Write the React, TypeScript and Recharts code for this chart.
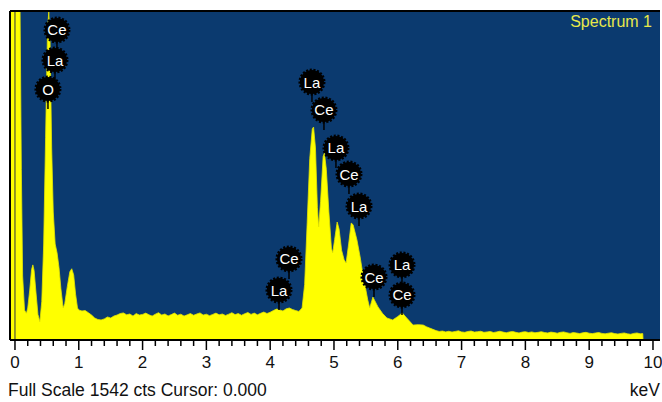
import React from "react";
import {
  AreaChart,
  Area,
  XAxis,
  YAxis,
  CartesianGrid,
  ReferenceLine,
  ReferenceDot,
} from "recharts";

// ---- Data (keV, counts) ----
const lowEnergyPeaks: [number, number][] = [
  [-0.078, 1542], [0.08, 1542], [0.1, 800], [0.12, 300], [0.15, 140], [0.18, 125],
  [0.2, 150], [0.23, 230], [0.26, 330], [0.28, 352], [0.3, 325], [0.33, 220],
  [0.36, 120], [0.39, 86], [0.42, 180], [0.45, 450], [0.48, 950], [0.51, 1450],
  [0.53, 1542], [0.55, 1400], [0.575, 900], [0.6, 600], [0.63, 450], [0.66, 408],
  [0.69, 340], [0.72, 240], [0.755, 150], [0.78, 170], [0.82, 250], [0.86, 320],
  [0.89, 334], [0.92, 305], [0.95, 215], [0.98, 150],
];

const continuumLow: [number, number][] = [
  [1.0, 141], [1.05, 136], [1.1, 138], [1.15, 128], [1.2, 117], [1.25, 103], [1.3, 96],
  [1.35, 94], [1.4, 99], [1.45, 108], [1.5, 103], [1.55, 112], [1.6, 117], [1.65, 124],
  [1.7, 127], [1.75, 118], [1.8, 122], [1.85, 112], [1.9, 124], [1.95, 117], [2.0, 120],
  [2.05, 126], [2.1, 118], [2.15, 112], [2.2, 121], [2.25, 128], [2.3, 117], [2.35, 122],
  [2.4, 113], [2.45, 119], [2.5, 126], [2.55, 116], [2.6, 121], [2.65, 112], [2.7, 118],
  [2.75, 124], [2.8, 116], [2.85, 122], [2.9, 127], [2.95, 117], [3.0, 121], [3.05, 114],
  [3.1, 120], [3.15, 126], [3.2, 118], [3.25, 122], [3.3, 115], [3.35, 121], [3.4, 128],
  [3.45, 119], [3.5, 124], [3.55, 116], [3.6, 123], [3.65, 129], [3.7, 120], [3.75, 126],
  [3.8, 118], [3.85, 125], [3.9, 131], [3.95, 124], [4.0, 130], [4.05, 138], [4.1, 145],
  [4.15, 141], [4.2, 136], [4.25, 146], [4.3, 150], [4.35, 143], [4.4, 138], [4.45, 134],
];

const lLinePeaks: [number, number][] = [
  [4.5, 150], [4.54, 260], [4.58, 550], [4.62, 850], [4.66, 990], [4.68, 998], [4.71, 900],
  [4.74, 620], [4.76, 530], [4.79, 650], [4.83, 860], [4.85, 876], [4.88, 800], [4.92, 600],
  [4.96, 430], [4.98, 408], [5.01, 470], [5.05, 553], [5.08, 520], [5.12, 420], [5.16, 375],
  [5.19, 361], [5.23, 450], [5.27, 548], [5.3, 540], [5.36, 469], [5.41, 389], [5.45, 314],
  [5.53, 187], [5.56, 150], [5.61, 201], [5.69, 155], [5.76, 125], [5.83, 103], [5.92, 94],
  [6.0, 110], [6.07, 127], [6.14, 103], [6.24, 70], [6.32, 72],
];

const continuumHigh: [number, number][] = [
  [6.4, 70], [6.45, 62], [6.5, 56], [6.55, 50], [6.6, 44], [6.65, 40], [6.7, 42], [6.75, 38],
  [6.8, 41], [6.85, 37], [6.9, 40], [6.95, 43], [7.0, 38], [7.05, 36], [7.1, 40], [7.15, 42],
  [7.2, 37], [7.25, 39], [7.3, 41], [7.35, 36], [7.4, 38], [7.45, 40], [7.5, 35], [7.55, 38],
  [7.6, 41], [7.65, 37], [7.7, 34], [7.75, 38], [7.8, 40], [7.85, 36], [7.9, 33], [7.95, 37],
  [8.0, 39], [8.05, 35], [8.1, 38], [8.15, 34], [8.2, 36], [8.25, 39], [8.3, 35], [8.35, 33],
  [8.4, 37], [8.45, 35], [8.5, 32], [8.55, 36], [8.6, 38], [8.65, 34], [8.7, 31], [8.75, 35],
  [8.8, 33], [8.85, 30], [8.9, 34], [8.95, 36], [9.0, 32], [9.05, 30], [9.1, 33], [9.15, 35],
  [9.2, 31], [9.25, 29], [9.3, 32], [9.35, 34], [9.4, 30], [9.45, 28], [9.5, 31], [9.55, 33],
  [9.6, 29], [9.65, 27], [9.7, 31], [9.75, 33], [9.8, 29], [9.84, 30], [9.845, 0], [10.11, 0],
];

// Element line markers: element, energy (keV) of stem, badge height (counts)
const markerElements = ["Ce", "La", "O", "La", "Ce", "La", "Ce", "La", "Ce", "La", "Ce", "La", "Ce"];
const markerEnergies = [0.658, 0.627, 0.517, 4.655, 4.843, 5.031, 5.235, 5.392, 4.295, 4.138, 5.627, 6.066, 6.066];
const markerHeights = [1453, 1312, 1176, 1209, 1078, 900, 778, 628, 380, 234, 295, 352, 211];

const majorTicks = [0, 1, 2, 3, 4, 5, 6, 7, 8, 9, 10];
const fullScale = 1542;
const cursorKeV = 0;

const NAVY = "#0b3a6f";
const YELLOW = "#ffff00";
const FONT = '"Liberation Sans", Arial, sans-serif';

const data = [...lowEnergyPeaks, ...continuumLow, ...lLinePeaks, ...continuumHigh].map(
  ([e, c]) => ({ e, c })
);

const allTicks: number[] = [];
majorTicks.forEach((t, i) => {
  allTicks.push(t);
  if (i < majorTicks.length - 1) {
    for (let k = 1; k < 5; k++) allTicks.push(+(t + k * 0.2).toFixed(2));
  }
});

const AxisTick = (props: any) => {
  const { x, y, payload } = props;
  const v = payload.value as number;
  const major = Math.abs(v - Math.round(v)) < 1e-6;
  return (
    <g>
      <line x1={x} y1={y + 1} x2={x} y2={y + (major ? 10 : 6)} stroke="#000" strokeWidth={1.5} />
      {major && (
        <text x={x} y={y + 28} textAnchor="middle" fontSize={17} fontFamily={FONT} fill="#111">
          {Math.round(v)}
        </text>
      )}
    </g>
  );
};

const Badge = ({ cx, cy, text }: { cx: number; cy: number; text: string }) => (
  <g>
    <line x1={cx} y1={cy + 10} x2={cx} y2={cy + 20} stroke="#000" strokeWidth={1.5} />
    <circle cx={cx} cy={cy} r={12} fill="#000" stroke="#000" strokeWidth={3} strokeDasharray="2 1.6" />
    <text x={cx} y={cy + 5.5} textAnchor="middle" fill="#fff" fontSize={15} fontFamily={FONT}>
      {text}
    </text>
  </g>
);

export default function App() {
  return (
    <div style={{ position: "relative", width: 662, height: 402, background: "#fff", overflow: "hidden" }}>
      <style>{"body{margin:0}"}</style>
      <AreaChart width={662} height={402} data={data} margin={{ top: 11, right: 2, left: 10, bottom: 0 }}>
        <CartesianGrid fill={NAVY} horizontal={false} vertical={false} stroke="none" />
        <XAxis
          dataKey="e"
          type="number"
          domain={[-0.078, 10.11]}
          allowDataOverflow
          ticks={allTicks}
          interval={0}
          height={62}
          tickSize={0}
          tickMargin={0}
          tickLine={false}
          axisLine={{ stroke: "#000", strokeWidth: 2 }}
          tick={<AxisTick />}
        />
        <YAxis hide type="number" domain={[0, fullScale]} allowDataOverflow />
        <Area
          dataKey="c"
          type="linear"
          fill={YELLOW}
          fillOpacity={1}
          stroke="#e4e400"
          strokeWidth={0.8}
          isAnimationActive={false}
          dot={false}
          activeDot={false}
        />
        <ReferenceLine x={cursorKeV} stroke="#2a3240" strokeWidth={1} />
        <ReferenceLine y={fullScale} stroke="#000" strokeWidth={2} />
        <ReferenceLine x={-0.078} stroke="#000" strokeWidth={2} />
        {markerElements.map((el, i) => (
          <ReferenceDot
            key={i}
            x={markerEnergies[i]}
            y={markerHeights[i]}
            r={0}
            shape={(p: any) => <Badge cx={p.cx} cy={p.cy} text={el} />}
          />
        ))}
      </AreaChart>
      <div
        style={{
          position: "absolute",
          right: 10,
          top: 14,
          color: "#e8e84a",
          font: `16px ${FONT}`,
          lineHeight: 1,
          whiteSpace: "nowrap",
        }}
      >
        Spectrum 1
      </div>
      <div
        style={{
          position: "absolute",
          left: 8,
          top: 382,
          color: "#111",
          font: `17.5px ${FONT}`,
          lineHeight: 1,
          whiteSpace: "nowrap",
        }}
      >
        Full Scale 1542 cts Cursor: 0.000
      </div>
      <div
        style={{
          position: "absolute",
          right: 2,
          top: 382,
          color: "#111",
          font: `17.5px ${FONT}`,
          lineHeight: 1,
          whiteSpace: "nowrap",
        }}
      >
        keV
      </div>
    </div>
  );
}
